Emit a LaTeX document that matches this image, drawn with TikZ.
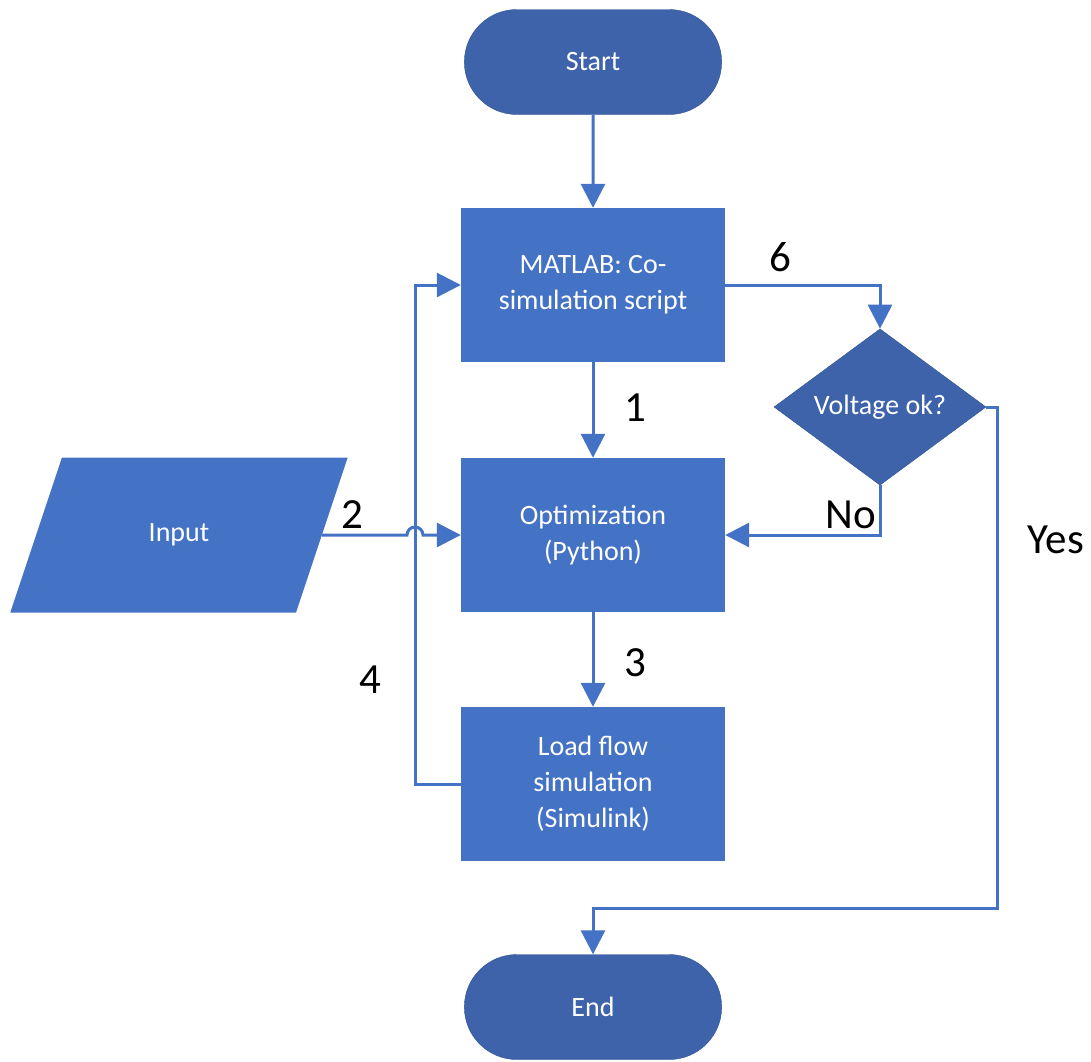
\documentclass[tikz,border=0pt]{standalone}
\usepackage{fontspec}
\setmainfont{Carlito}
\usetikzlibrary{shapes.geometric,shapes.misc,arrows.meta}
\definecolor{boxblue}{HTML}{4472C4}
\definecolor{darkblue}{HTML}{3E63AA}
\definecolor{edgeblue}{HTML}{2F528F}
\begin{document}
\begin{tikzpicture}
[x=1pt,y=1pt,
term/.style={rounded rectangle,draw=edgeblue,fill=darkblue,minimum width=264pt,minimum height=105pt,text=white,font=\fontsize{28}{36}\selectfont},
proc/.style={rectangle,fill=boxblue,minimum width=264pt,minimum height=154pt,align=center,text=white,font=\fontsize{28}{36}\selectfont},
deci/.style={diamond,draw=edgeblue,fill=darkblue,minimum width=212pt,minimum height=155pt,inner sep=0pt,text=white,font=\fontsize{28}{36}\selectfont},
inpt/.style={trapezium,trapezium left angle=63,trapezium right angle=117,trapezium stretches,fill=boxblue,minimum width=338pt,minimum height=155pt,text=white,font=\fontsize{28}{36}\selectfont},
flow/.style={draw=boxblue,line width=3pt,-{Triangle[length=24pt,width=24pt]}},
lbl/.style={font=\fontsize{43}{50}\selectfont}]
\useasboundingbox (0,0) rectangle (1091,-1061);
\node at (179,-535) [inpt] (in) {Input};
\node at (593,-62) [term] (st) {Start};
\node at (593,-285) [proc] (ms) {MATLAB: Co-\\simulation script};
\node at (593,-535) [proc] (op) {Optimization\\(Python)};
\node at (593,-784) [proc] (lf) {Load flow\\simulation\\(Simulink)};
\node at (593,-1007) [term] (en) {End};
\node at (880,-407) [deci] (dm) {Voltage ok?};
\coordinate (jp) at (407,-535);
\coordinate (lp) at (415,-285);
\coordinate (yr) at (997,-908);
% connectors
\draw[flow] (st) -- (ms);
\draw[flow] (ms) -- (op);
\draw[flow] (op) -- (lf);
\draw[flow] (ms.east) -| (dm.north);
\draw[flow] (dm.south) |- (op.east);
\draw[flow] (dm.east) -| (yr) -| (en.north);
\draw[flow] (lf.west) -| (lp) -- (ms.west);
\draw[flow] (in.east) -- (jp) arc[start angle=180,end angle=0,radius=8] -- (op.west);
% labels
\node at (780,-257) [lbl] (l6) {6};
\node at (635,-408) [lbl] (l1) {1};
\node at (635,-663) [lbl] (l3) {3};
\node at (851,-515) [lbl] (lno) {No};
\node at (1056,-540) [lbl] (lyes) {Yes};
\node at (352,-515) [lbl] (l2) {2};
\node at (370,-680) [lbl] (l4) {4};
\end{tikzpicture}
\end{document}
